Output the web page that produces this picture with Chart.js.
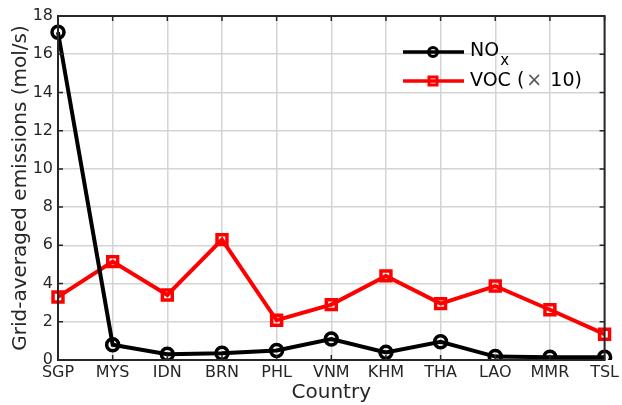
<!DOCTYPE html>
<html>
<head>
<meta charset="utf-8">
<script src="https://cdn.jsdelivr.net/npm/chart.js@4"></script>
<style>
  html, body { margin: 0; padding: 0; background: #fff; }
  #wrap { width: 622px; height: 405px; }
</style>
</head>
<body>
<div id="wrap"><canvas id="c" width="622" height="405"></canvas></div>
<script>
const countries = ['SGP', 'MYS', 'IDN', 'BRN', 'PHL', 'VNM', 'KHM', 'THA', 'LAO', 'MMR', 'TSL'];
const noxValues = [17.15, 0.8, 0.3, 0.35, 0.5, 1.1, 0.4, 0.95, 0.18, 0.15, 0.15];
const vocValues = [3.3, 5.15, 3.4, 6.3, 2.08, 2.9, 4.4, 2.95, 3.87, 2.63, 1.35];
const yTicks = [0, 2, 4, 6, 8, 10, 12, 14, 16, 18];

const FONT = 'DejaVu Sans';
const TXT = '#262626';

// box round the plot with inward ticks (MATLAB look) and the legend
const boxPlugin = {
  id: 'box',
  afterDatasetsDraw(chart) {
    const ctx = chart.ctx;
    const a = chart.chartArea;
    const xs = chart.scales.x, ys = chart.scales.y;
    ctx.save();
    ctx.strokeStyle = TXT;
    ctx.lineWidth = 1.5;
    ctx.beginPath();
    countries.forEach((c, i) => {
      const px = xs.getPixelForValue(i);
      ctx.moveTo(px, a.top); ctx.lineTo(px, a.top + 5);
      ctx.moveTo(px, a.bottom); ctx.lineTo(px, a.bottom - 5);
    });
    yTicks.forEach(v => {
      const py = ys.getPixelForValue(v);
      ctx.moveTo(a.left, py); ctx.lineTo(a.left + 5, py);
      ctx.moveTo(a.right, py); ctx.lineTo(a.right - 5, py);
    });
    ctx.stroke();
    ctx.lineWidth = 2;
    ctx.strokeRect(a.left, a.top, a.right - a.left, a.bottom - a.top);

    // legend
    const lx = 403, ly1 = 52, ly2 = 81;
    ctx.lineWidth = 3.5;
    ctx.strokeStyle = '#000';
    ctx.beginPath(); ctx.moveTo(lx, ly1); ctx.lineTo(lx + 61, ly1); ctx.stroke();
    ctx.lineWidth = 3;
    ctx.beginPath(); ctx.arc(lx + 30, ly1, 4.5, 0, Math.PI * 2); ctx.stroke();
    ctx.lineWidth = 3.5;
    ctx.strokeStyle = '#ff0000';
    ctx.beginPath(); ctx.moveTo(lx, ly2); ctx.lineTo(lx + 61, ly2); ctx.stroke();
    ctx.lineWidth = 3;
    ctx.strokeRect(lx + 26, ly2 - 4, 8, 8);
    ctx.fillStyle = '#000';
    ctx.font = '19px ' + FONT;
    ctx.textBaseline = 'middle';
    const tx = lx + 67;
    ctx.fillText('NO', tx, ly1 - 1);
    const w = ctx.measureText('NO').width;
    ctx.font = '15px ' + FONT;
    ctx.fillText('x', tx + w + 1, ly1 + 9);
    ctx.font = '19px ' + FONT;
    ctx.fillText('VOC (', tx, ly2);
    let w2 = ctx.measureText('VOC (').width;
    ctx.fillStyle = '#555';
    ctx.fillText('\u00d7', tx + w2 + 2, ly2);
    w2 += ctx.measureText('\u00d7').width + 4;
    ctx.fillStyle = '#000';
    ctx.fillText(' 10)', tx + w2, ly2);
    ctx.restore();
  }
};

new Chart(document.getElementById('c'), {
  type: 'line',
  data: {
    labels: countries,
    datasets: [
      {
        label: 'NOx',
        data: noxValues,
        borderColor: '#000',
        backgroundColor: 'rgba(0,0,0,0)',
        borderWidth: 4,
        pointStyle: 'circle',
        pointRadius: 6,
        pointBorderWidth: 3.5,
        tension: 0
      },
      {
        label: 'VOC (x 10)',
        data: vocValues,
        borderColor: '#ff0000',
        backgroundColor: 'rgba(0,0,0,0)',
        borderWidth: 4,
        pointStyle: 'rect',
        pointRadius: 7,
        pointBorderWidth: 3.5,
        tension: 0
      }
    ]
  },
  options: {
    responsive: false,
    animation: false,
    layout: { padding: { top: 16, right: 15, left: 0, bottom: 0 } },
    plugins: { legend: { display: false }, tooltip: { enabled: false } },
    scales: {
      x: {
        type: 'category',
        offset: false,
        grid: { color: '#d4d4d4', lineWidth: 1.5, drawTicks: false },
        border: { display: false },
        ticks: { color: TXT, font: { family: FONT, size: 16 }, padding: 3, maxRotation: 0, autoSkip: false },
        title: { display: true, text: 'Country', color: TXT, font: { family: FONT, size: 20 }, padding: { top: 0, bottom: 0 } },
        afterFit(s) { s.height = 45; }
      },
      y: {
        min: 0,
        max: 18,
        afterBuildTicks(s) { s.ticks = yTicks.map(v => ({ value: v })); },
        grid: { color: '#d4d4d4', lineWidth: 1.5, drawTicks: false },
        border: { display: false },
        ticks: { color: TXT, font: { family: FONT, size: 16 }, padding: 5 },
        title: { display: true, text: 'Grid-averaged emissions (mol/s)', color: TXT, font: { family: FONT, size: 20 }, padding: { top: 9, bottom: 4 } },
        afterFit(s) { s.width = 58; }
      }
    }
  },
  plugins: [boxPlugin]
});
</script>
</body>
</html>
